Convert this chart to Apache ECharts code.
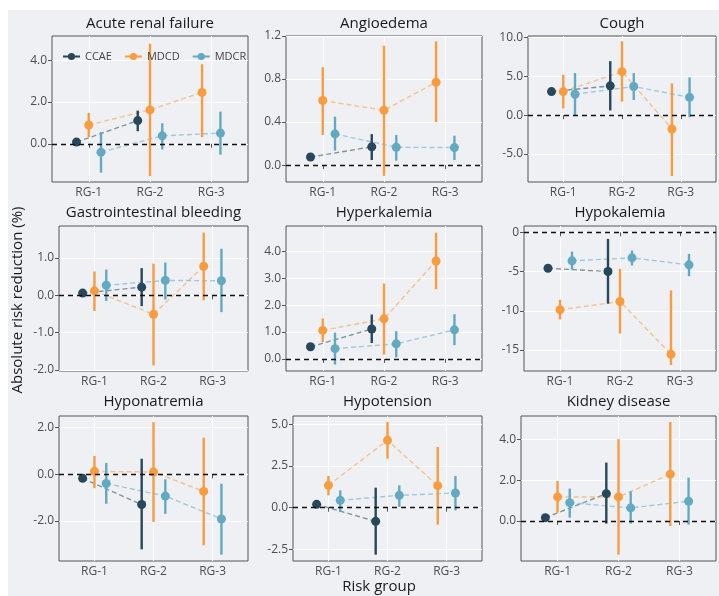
<!DOCTYPE html>
<html>
<head>
<meta charset="utf-8">
<script src="https://cdn.jsdelivr.net/npm/echarts@6/dist/echarts.min.js"></script>
<style>
  html, body { margin: 0; padding: 0; background: #ffffff; }
  #wrap { position: relative; width: 719px; height: 596px; background: #ffffff; overflow: hidden; }
  #bg { position: absolute; left: 8px; top: 10px; right: 0; bottom: 0; background: #eff0f4; }
  #chart { position: absolute; left: 0; top: 0; width: 719px; height: 596px; }
</style>
</head>
<body>
<div id="wrap"><div id="bg"></div><div id="chart"></div></div>
<script>
// Risk groups and data sources
const categories = ['RG-1', 'RG-2', 'RG-3'];
const sources = ['CCAE', 'MDCD', 'MDCR'];
const sourceColors = ['#27475a', '#f89c3f', '#62a9c1'];

// Each entry: [estimate, lower CI, upper CI] per risk group (null = not available)
const arfCCAE = [[0.08, 0.01, 0.15], [1.11, 0.60, 1.59], null];
const arfMDCD = [[0.90, 0.32, 1.48], [1.62, -1.54, 4.79], [2.46, 0.32, 3.81]];
const arfMDCR = [[-0.40, -1.38, 0.56], [0.38, -0.27, 0.98], [0.51, -0.52, 1.54]];

const angCCAE = [[0.075, 0.06, 0.09], [0.17, 0.047, 0.288], null];
const angMDCD = [[0.60, 0.28, 0.91], [0.51, -0.10, 1.11], [0.77, 0.40, 1.15]];
const angMDCR = [[0.29, 0.135, 0.45], [0.166, 0.041, 0.28], [0.163, 0.047, 0.273]];

const cghCCAE = [[3.04, 2.9, 3.2], [3.78, 0.61, 6.96], null];
const cghMDCD = [[3.04, 0.87, 5.22], [5.61, 1.74, 9.52], [-1.78, -7.83, 4.09]];
const cghMDCR = [[2.70, 0.0, 5.43], [3.70, 1.96, 5.43], [2.30, -0.26, 4.87]];

const gibCCAE = [[0.06, 0.03, 0.09], [0.22, -0.29, 0.73], null];
const gibMDCD = [[0.12, -0.42, 0.64], [-0.51, -1.88, 0.85], [0.78, -0.13, 1.68]];
const gibMDCR = [[0.27, -0.15, 0.69], [0.40, -0.11, 0.88], [0.39, -0.45, 1.25]];

const hyperkCCAE = [[0.45, 0.38, 0.52], [1.11, 0.59, 1.65], null];
const hyperkMDCD = [[1.06, 0.63, 1.50], [1.49, 0.16, 2.80], [3.64, 2.59, 4.69]];
const hyperkMDCR = [[0.38, -0.21, 0.98], [0.56, 0.06, 1.03], [1.08, 0.51, 1.66]];

const hypokCCAE = [[-4.58, -4.8, -4.36], [-5.0, -9.1, -0.85], null];
const hypokMDCD = [[-9.87, -11.1, -8.6], [-8.81, -12.9, -4.66], [-15.55, -16.9, -7.4]];
const hypokMDCR = [[-3.64, -4.75, -2.46], [-3.26, -4.24, -2.33], [-4.15, -5.59, -2.75]];

const hyponCCAE = [[-0.17, -0.25, -0.09], [-1.29, -3.21, 0.67], null];
const hyponMDCD = [[0.13, -0.59, 0.79], [0.10, -2.04, 2.24], [-0.73, -3.04, 1.57]];
const hyponMDCR = [[-0.39, -1.26, 0.49], [-0.93, -1.69, -0.21], [-1.91, -3.44, -0.40]];

const hypotCCAE = [[0.20, 0.12, 0.28], [-0.82, -2.82, 1.20], null];
const hypotMDCD = [[1.34, 0.74, 1.90], [4.04, 2.94, 5.14], [1.32, -1.02, 3.64]];
const hypotMDCR = [[0.44, -0.26, 1.04], [0.74, 0.04, 1.34], [0.88, -0.16, 1.90]];

const kidCCAE = [[0.16, 0.10, 0.22], [1.34, -0.13, 2.87], null];
const kidMDCD = [[1.18, 0.41, 1.97], [1.18, -1.66, 4.02], [2.30, -0.25, 4.87]];
const kidMDCR = [[0.90, 0.16, 1.59], [0.64, -0.13, 1.46], [0.97, -0.18, 2.13]];

// Y tick values per panel
const arfTicks = [0, 2, 4];
const angTicks = [0, 0.4, 0.8, 1.2];
const cghTicks = [-5, 0, 5, 10];
const gibTicks = [-2, -1, 0, 1];
const hyperkTicks = [0, 1, 2, 3, 4];
const hypokTicks = [-15, -10, -5, 0];
const hyponTicks = [-2, 0, 2];
const hypotTicks = [-2.5, 0, 2.5, 5];
const kidTicks = [0, 2, 4];

// Y axis extents per panel
const arfRange = [-1.83, 5.16];
const angRange = [-0.157, 1.2];
const cghRange = [-8.6, 10.2];
const gibRange = [-2.03, 1.86];
const hyperkRange = [-0.45, 4.94];
const hypokRange = [-17.67, 0.8];
const hyponRange = [-3.71, 2.5];
const hypotRange = [-3.2, 5.5];
const kidRange = [-1.97, 5.16];

const panels = [
  { name: 'Acute renal failure', rows: [arfCCAE, arfMDCD, arfMDCR], ticks: arfTicks, range: arfRange, digits: 1 },
  { name: 'Angioedema', rows: [angCCAE, angMDCD, angMDCR], ticks: angTicks, range: angRange, digits: 1 },
  { name: 'Cough', rows: [cghCCAE, cghMDCD, cghMDCR], ticks: cghTicks, range: cghRange, digits: 1 },
  { name: 'Gastrointestinal bleeding', rows: [gibCCAE, gibMDCD, gibMDCR], ticks: gibTicks, range: gibRange, digits: 1 },
  { name: 'Hyperkalemia', rows: [hyperkCCAE, hyperkMDCD, hyperkMDCR], ticks: hyperkTicks, range: hyperkRange, digits: 1 },
  { name: 'Hypokalemia', rows: [hypokCCAE, hypokMDCD, hypokMDCR], ticks: hypokTicks, range: hypokRange, digits: 0 },
  { name: 'Hyponatremia', rows: [hyponCCAE, hyponMDCD, hyponMDCR], ticks: hyponTicks, range: hyponRange, digits: 1 },
  { name: 'Hypotension', rows: [hypotCCAE, hypotMDCD, hypotMDCR], ticks: hypotTicks, range: hypotRange, digits: 1 },
  { name: 'Kidney disease', rows: [kidCCAE, kidMDCD, kidMDCR], ticks: kidTicks, range: kidRange, digits: 1 }
];

// Plot boxes [left, top, width, height] in pixels
const panelBoxes = [
  [52, 36, 196, 146], [286, 36, 196, 146], [528, 36, 188, 146],
  [59, 226, 189, 145], [286, 226, 196, 145], [524, 226, 192, 145],
  [59, 416, 189, 145], [293, 416, 189, 145], [521, 416, 195, 145]
];
const titleRowY = [24, 213, 402];

const FONT = '"Open Sans", "Noto Sans", sans-serif';
const DODGE = 0.6;

function errorBarRenderer(color) {
  return function (params, api) {
    const a = api.coord([api.value(0), api.value(1)]);
    const b = api.coord([api.value(0), api.value(2)]);
    return {
      type: 'line',
      shape: { x1: a[0], y1: a[1], x2: b[0], y2: b[1] },
      style: { stroke: color, lineWidth: 2.4 }
    };
  };
}

const option = {
  animation: false,
  backgroundColor: 'transparent',
  textStyle: { fontFamily: FONT },
  grid: [], xAxis: [], yAxis: [], series: [], graphic: [],
  legend: {
    data: sources,
    left: 57, top: 46,
    itemWidth: 17, itemHeight: 9, itemGap: 12,
    selectedMode: false,
    textStyle: { fontSize: 11, color: '#444', fontFamily: FONT },
    lineStyle: { type: 'solid', width: 2, opacity: 1 },
    itemStyle: { opacity: 1 }
  }
};

panels.forEach((p, i) => {
  const [l, t, w, h] = panelBoxes[i];
  option.grid.push({
    left: l, top: t, width: w, height: h,
    show: true, backgroundColor: 'transparent', borderColor: '#555', borderWidth: 1
  });
  option.xAxis.push({
    type: 'value', gridIndex: i, min: 0.4, max: 3.6,
    axisLine: { show: false },
    axisTick: { show: true, length: 4, customValues: [1, 2, 3], lineStyle: { color: '#555' } },
    axisLabel: {
      customValues: [1, 2, 3],
      formatter: v => categories[Math.round(v) - 1],
      color: '#4d4d4d', fontSize: 12, margin: 5, fontFamily: FONT
    },
    splitLine: { show: true, lineStyle: { color: '#ffffff', width: 1 } }
  });
  option.yAxis.push({
    type: 'value', gridIndex: i, min: p.range[0], max: p.range[1],
    axisLine: { show: false },
    axisTick: { show: true, length: 4, customValues: p.ticks, lineStyle: { color: '#555' } },
    axisLabel: {
      customValues: p.ticks,
      formatter: v => Number(v).toFixed(p.digits),
      color: '#4d4d4d', fontSize: 12, margin: 5, fontFamily: FONT
    },
    splitLine: { show: true, lineStyle: { color: '#ffffff', width: 1 } }
  });

  // Dodged x positions per category
  const points = sources.map(() => []);
  categories.forEach((c, ci) => {
    const present = [];
    p.rows.forEach((row, s) => { if (row[ci]) present.push(s); });
    const n = present.length;
    present.forEach((s, k) => {
      const x = ci + 1 + (k - (n - 1) / 2) * (DODGE / n);
      const [est, lo, hi] = p.rows[s][ci];
      points[s].push({ x, est, lo, hi });
    });
  });

  // dashed connectors (with zero reference on the first)
  sources.forEach((src, s) => {
    const ser = {
      type: 'line', name: src, xAxisIndex: i, yAxisIndex: i,
      data: points[s].map(d => [d.x, d.est]),
      symbol: 'circle', showSymbol: false, symbolSize: 9,
      color: sourceColors[s],
      lineStyle: { type: [5, 3], width: 1.4, opacity: 0.55, color: sourceColors[s] },
      silent: true, z: 2
    };
    if (s === 0) {
      ser.markLine = {
        silent: true, symbol: 'none', animation: false,
        label: { show: false },
        lineStyle: { color: '#111', type: [5, 4], width: 1.4, opacity: 1 },
        data: [{ yAxis: 0 }]
      };
    }
    option.series.push(ser);
  });
  // confidence intervals
  sources.forEach((src, s) => {
    option.series.push({
      type: 'custom', name: src, xAxisIndex: i, yAxisIndex: i,
      data: points[s].map(d => [d.x, d.lo, d.hi]),
      encode: { x: 0, y: [1, 2] },
      renderItem: errorBarRenderer(sourceColors[s]),
      silent: true, z: 3
    });
  });
  // point estimates
  sources.forEach((src, s) => {
    option.series.push({
      type: 'scatter', name: src, xAxisIndex: i, yAxisIndex: i,
      data: points[s].map(d => [d.x, d.est]),
      symbol: 'circle', symbolSize: 9,
      itemStyle: { color: sourceColors[s], opacity: 1 },
      silent: true, z: 4
    });
  });

  // panel title
  option.graphic.push({
    type: 'text', x: l + w / 2, y: titleRowY[Math.floor(i / 3)],
    style: {
      text: p.name, fill: '#1a1a1a', font: '15px ' + FONT,
      textAlign: 'center', textVerticalAlign: 'middle', align: 'center', verticalAlign: 'middle'
    }
  });
});

// axis titles
option.graphic.push({
  type: 'text', x: 18, y: 300, rotation: Math.PI / 2,
  style: {
    text: 'Absolute risk reduction (%)', fill: '#1a1a1a', font: '15px ' + FONT,
    textAlign: 'center', textVerticalAlign: 'middle', align: 'center', verticalAlign: 'middle'
  }
});
option.graphic.push({
  type: 'text', x: 379, y: 587,
  style: {
    text: 'Risk group', fill: '#1a1a1a', font: '15px ' + FONT,
    textAlign: 'center', textVerticalAlign: 'middle', align: 'center', verticalAlign: 'middle'
  }
});

const chart = echarts.init(document.getElementById('chart'), null, { renderer: 'canvas' });
chart.setOption(option);
</script>
</body>
</html>
